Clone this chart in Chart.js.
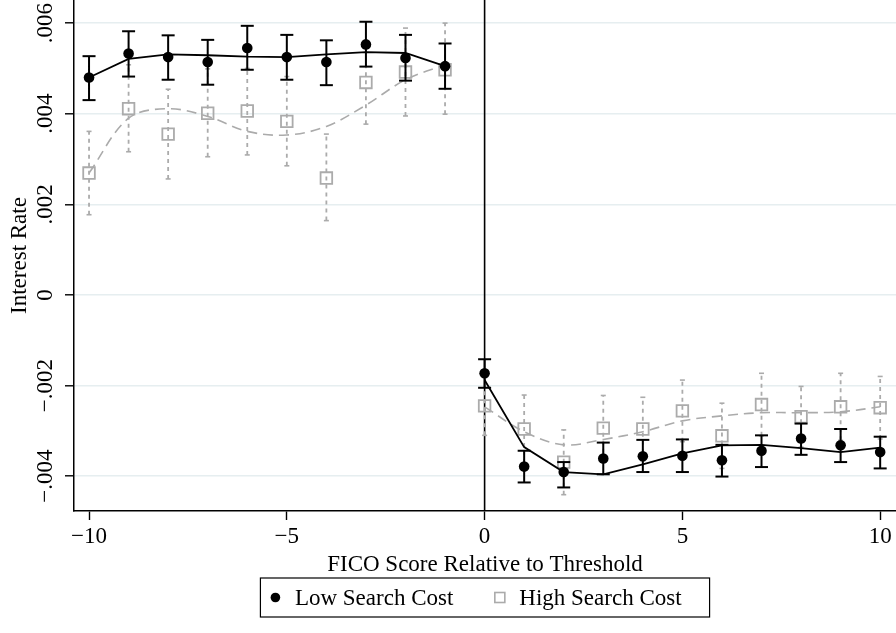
<!DOCTYPE html>
<html>
<head>
<meta charset="utf-8">
<script src="https://cdn.jsdelivr.net/npm/chart.js@4.4.1/dist/chart.umd.min.js"></script>
<style>
  html, body { margin: 0; padding: 0; background: #fff; }
</style>
</head>
<body>
<canvas id="rdChart" width="896" height="633"></canvas>
<script>
// ===== Interest rate around the FICO threshold =====

// --- Data ---
const scoreBins = [-10, -9, -8, -7, -6, -5, -4, -3, -2, -1, 0, 1, 2, 3, 4, 5, 6, 7, 8, 9, 10];
const threshold = 0;

// Low search cost: bin means, 95% CI bounds, fitted line
const lowMean = [0.00480, 0.00533, 0.00525, 0.00514, 0.00545, 0.00525, 0.00514, 0.00553, 0.00523, 0.00505,
                 -0.00173, -0.00379, -0.00391, -0.00361, -0.00356, -0.00355, -0.00365, -0.00344, -0.00317, -0.00332, -0.00347];
const lowHi   = [0.00527, 0.00582, 0.00573, 0.00563, 0.00594, 0.00574, 0.00562, 0.00603, 0.00574, 0.00555,
                 -0.00142, -0.00344, -0.00369, -0.00326, -0.00320, -0.00319, -0.00331, -0.00310, -0.00284, -0.00296, -0.00313];
const lowLo   = [0.00430, 0.00482, 0.00475, 0.00464, 0.00497, 0.00475, 0.00463, 0.00504, 0.00473, 0.00455,
                 -0.00205, -0.00414, -0.00425, -0.00396, -0.00391, -0.00391, -0.00401, -0.00380, -0.00353, -0.00369, -0.00383];
const lowFit  = [0.00480, 0.00521, 0.00531, 0.00529, 0.00526, 0.00525, 0.00531, 0.00536, 0.00534, 0.00505,
                 -0.00188, -0.00336, -0.00391, -0.00396, -0.00374, -0.00350, -0.00332, -0.00331, -0.00338, -0.00347, -0.00337];

// High search cost
const highMean = [0.00269, 0.00411, 0.00355, 0.00401, 0.00406, 0.00383, 0.00258, 0.00469, 0.00492, 0.00497,
                  -0.00245, -0.00296, -0.00369, -0.00294, -0.00296, -0.00256, -0.00311, -0.00242, -0.00269, -0.00247, -0.00249];
const highHi   = [0.00361, 0.00508, 0.00454, 0.00499, 0.00500, 0.00482, 0.00355, 0.00561, 0.00589, 0.00600,
                  -0.00180, -0.00221, -0.00298, -0.00222, -0.00226, -0.00188, -0.00239, -0.00173, -0.00202, -0.00173, -0.00180];
const highLo   = [0.00177, 0.00316, 0.00256, 0.00305, 0.00309, 0.00285, 0.00164, 0.00377, 0.00395, 0.00399,
                  -0.00310, -0.00371, -0.00441, -0.00366, -0.00366, -0.00324, -0.00383, -0.00311, -0.00336, -0.00321, -0.00318];
const highFit  = [0.00269, 0.00390, 0.00411, 0.00394, 0.00361, 0.00353, 0.00372, 0.00419, 0.00475, 0.00508,
                  -0.00247, -0.00302, -0.00331, -0.00319, -0.00302, -0.00278, -0.00267, -0.00260, -0.00260, -0.00258, -0.00247];

// Axis ticks
const xTicks = [-10, -5, 0, 5, 10];
const xTickLabels = ['\u221210', '\u22125', '0', '5', '10'];
const yTicks = [-0.004, -0.002, 0, 0.002, 0.004, 0.006];
const yTickLabels = ['\u2212.004', '\u2212.002', '0', '.002', '.004', '.006'];

const GREY = '#ababab';
const FONT = "'Liberation Serif', 'DejaVu Serif', serif";

// --- Helpers to turn the arrays into chart points ---
function pointsOf(values) {
  return scoreBins.map((x, i) => ({ x, y: values[i] }));
}

// fitted line is drawn separately on each side of the threshold
function splitAtThreshold(values) {
  const pts = [];
  scoreBins.forEach((x, i) => {
    if (x === threshold) pts.push({ x, y: null });
    pts.push({ x, y: values[i] });
  });
  return pts;
}

// one vertical segment per bin, broken by a gap
function ciSegments(lo, hi) {
  const pts = [];
  scoreBins.forEach((x, i) => {
    pts.push({ x, y: lo[i] }, { x, y: hi[i] }, { x, y: null });
  });
  return pts;
}

function ciCaps(lo, hi) {
  return scoreBins.flatMap((x, i) => [{ x, y: lo[i] }, { x, y: hi[i] }]);
}

// --- Threshold line, rotated y labels and boxed legend ---
const decorations = {
  id: 'decorations',
  beforeDatasetsDraw(chart) {
    const { ctx, chartArea } = chart;
    const px = chart.scales.x.getPixelForValue(threshold);
    ctx.save();
    ctx.strokeStyle = '#000';
    ctx.lineWidth = 1.6;
    ctx.beginPath();
    ctx.moveTo(px, chartArea.top);
    ctx.lineTo(px, chartArea.bottom);
    ctx.stroke();
    ctx.restore();
  },
  afterDraw(chart) {
    const { ctx, chartArea } = chart;
    const yScale = chart.scales.y;
    ctx.save();
    ctx.fillStyle = '#000';
    ctx.font = '23px ' + FONT;
    ctx.textAlign = 'center';
    ctx.textBaseline = 'middle';
    yTicks.forEach((v, i) => {
      ctx.save();
      ctx.translate(46, yScale.getPixelForValue(v));
      ctx.rotate(-Math.PI / 2);
      ctx.fillText(yTickLabels[i], 0, 0);
      ctx.restore();
    });

    // legend
    const items = chart.data.datasets.filter(d => d.inLegend);
    ctx.textAlign = 'left';
    const widths = items.map(d => ctx.measureText(d.label).width);
    const padL = 15, markGap = 19.5, itemGap = 46.5, padR = 28;
    const boxW = padL + padR + widths.reduce((a, w) => a + w + markGap, 0) + itemGap * (items.length - 1);
    const boxH = 39;
    const boxX = (chartArea.left + chartArea.right) / 2 - boxW / 2;
    const boxY = 578;
    const cy = boxY + boxH / 2;
    ctx.strokeStyle = '#000';
    ctx.lineWidth = 1.2;
    ctx.strokeRect(boxX, boxY, boxW, boxH);
    let cx = boxX + padL;
    items.forEach((d, i) => {
      if (d.pointStyle === 'circle') {
        ctx.fillStyle = d.pointBackgroundColor;
        ctx.beginPath();
        ctx.arc(cx, cy, 4.8, 0, Math.PI * 2);
        ctx.fill();
      } else {
        ctx.strokeStyle = d.pointBorderColor;
        ctx.lineWidth = 1.6;
        ctx.strokeRect(cx - 5, cy - 5, 10, 10);
      }
      ctx.fillStyle = '#000';
      ctx.fillText(d.label, cx + markGap, cy + 1);
      cx += markGap + widths[i] + itemGap;
    });
    ctx.restore();
  }
};

// --- Chart ---
new Chart(document.getElementById('rdChart'), {
  type: 'scatter',
  data: {
    datasets: [
      {
        label: 'Low Search Cost', inLegend: true,
        data: pointsOf(lowMean),
        showLine: false, pointStyle: 'circle', pointRadius: 5.3,
        pointBackgroundColor: '#000', pointBorderColor: '#000', pointBorderWidth: 0,
        order: 0
      },
      {
        label: 'low ci',
        data: ciSegments(lowLo, lowHi),
        showLine: true, spanGaps: false, borderColor: '#000', borderWidth: 2,
        pointRadius: 0, order: 1
      },
      {
        label: 'low ci caps',
        data: ciCaps(lowLo, lowHi),
        showLine: false, pointStyle: 'line', pointRadius: 6.5,
        pointBorderColor: '#000', pointBorderWidth: 2, order: 1
      },
      {
        label: 'low fit',
        data: splitAtThreshold(lowFit),
        showLine: true, spanGaps: false, borderColor: '#000', borderWidth: 1.8,
        pointRadius: 0, order: 2
      },
      {
        label: 'High Search Cost', inLegend: true,
        data: pointsOf(highMean),
        showLine: false, pointStyle: 'rect', pointRadius: 8.2,
        pointBackgroundColor: 'rgba(0,0,0,0)', pointBorderColor: GREY, pointBorderWidth: 1.8,
        order: 3
      },
      {
        label: 'high ci',
        data: ciSegments(highLo, highHi),
        showLine: true, spanGaps: false, borderColor: GREY, borderWidth: 1.8,
        borderDash: [4, 4], pointRadius: 0, order: 4
      },
      {
        label: 'high ci caps',
        data: ciCaps(highLo, highHi),
        showLine: false, pointStyle: 'line', pointRadius: 2.5,
        pointBorderColor: GREY, pointBorderWidth: 1.6, order: 4
      },
      {
        label: 'high fit',
        data: splitAtThreshold(highFit),
        showLine: true, spanGaps: false, borderColor: GREY, borderWidth: 1.6,
        borderDash: [10, 6], tension: 0.35, pointRadius: 0, order: 5
      }
    ]
  },
  options: {
    responsive: false,
    animation: false,
    events: [],
    layout: { autoPadding: false, padding: { top: 0, right: 0, bottom: 54, left: 0 } },
    font: { family: FONT },
    plugins: {
      legend: { display: false },
      tooltip: { enabled: false }
    },
    scales: {
      x: {
        type: 'linear',
        min: -10.38,
        max: 10.40,
        afterBuildTicks: s => { s.ticks = xTicks.map(v => ({ value: v })); },
        afterFit: s => { s.height = 68; s.paddingLeft = 0; s.paddingRight = 0; },
        ticks: {
          color: '#000',
          padding: 3,
          font: { family: FONT, size: 23 },
          callback: v => xTickLabels[xTicks.indexOf(v)]
        },
        grid: { display: true, drawOnChartArea: false, tickLength: 9, tickColor: '#000', tickWidth: 1.4 },
        border: { display: true, color: '#000', width: 1.5 },
        title: {
          display: true,
          text: 'FICO Score Relative to Threshold',
          color: '#000',
          font: { family: FONT, size: 23 },
          padding: { top: 0, bottom: 0 }
        }
      },
      y: {
        type: 'linear',
        min: -0.00477,
        max: 0.00651,
        afterBuildTicks: s => { s.ticks = yTicks.map(v => ({ value: v })); },
        afterFit: s => { s.width = 74; s.paddingTop = 0; s.paddingBottom = 0; },
        ticks: { display: false },
        grid: { color: '#e6eef0', lineWidth: 1.6, tickLength: 9, tickColor: '#000', tickWidth: 1.4 },
        border: { display: true, color: '#000', width: 1.5 },
        title: {
          display: true,
          text: 'Interest Rate',
          color: '#000',
          font: { family: FONT, size: 23 },
          padding: { top: 6, bottom: 0 }
        }
      }
    }
  },
  plugins: [decorations]
});
</script>
</body>
</html>
